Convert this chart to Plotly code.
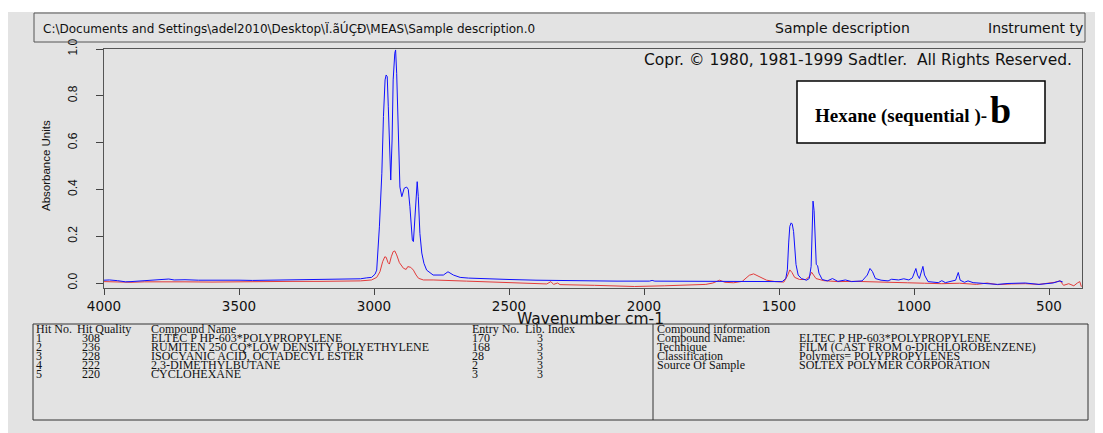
import plotly.graph_objects as go

# ---------------- data ----------------
blue_wn = [4000, 3980, 3950, 3920, 3900, 3860, 3830, 3780, 3760, 3740, 3700, 3650, 3600,
           3550, 3500, 3450, 3400, 3350, 3300, 3250, 3200, 3150, 3100, 3050, 3027, 3009,
           2996, 2990, 2980, 2971, 2965, 2959, 2955, 2951, 2947, 2943, 2938, 2933, 2929,
           2923, 2920, 2916, 2910, 2904, 2897, 2888, 2879, 2873, 2867, 2858, 2854, 2848,
           2843, 2840, 2836, 2830, 2823, 2815, 2805, 2781, 2743, 2726, 2706, 2681, 2650,
           2600, 2500, 2400, 2311, 2200, 2100, 1980, 1970, 1960, 1850, 1758, 1650, 1550,
           1488, 1475, 1469, 1464, 1460, 1455, 1451, 1446, 1442, 1437, 1429, 1417, 1398,
           1388, 1381, 1378, 1374, 1370, 1366, 1362, 1357, 1352, 1340, 1321, 1302, 1282,
           1254, 1231, 1192, 1173, 1163, 1154, 1143, 1122, 1096, 1083, 1057, 1038, 1019,
           1006, 993, 987, 980, 974, 967, 961, 948, 910, 897, 884, 846, 836, 829, 813,
           800, 781, 742, 691, 652, 588, 537, 485, 459, 449]
blue_abs = [0.012, 0.013, 0.010, 0.005, 0.006, 0.009, 0.012, 0.014, 0.017, 0.013, 0.014,
            0.012, 0.013, 0.012, 0.012, 0.011, 0.012, 0.012, 0.013, 0.013, 0.014, 0.015,
            0.016, 0.018, 0.022, 0.024, 0.038, 0.055, 0.24, 0.469, 0.711, 0.868, 0.889,
            0.882, 0.753, 0.568, 0.44, 0.611, 0.868, 0.982, 0.996, 0.896, 0.611, 0.41,
            0.369, 0.405, 0.41, 0.40, 0.326, 0.184, 0.177, 0.298, 0.426, 0.433, 0.37,
            0.212, 0.128, 0.084, 0.055, 0.034, 0.034, 0.048, 0.034, 0.024, 0.021, 0.018,
            0.015, 0.012, 0.010, 0.009, 0.008, 0.008, 0.011, 0.008, 0.007, 0.006, 0.006,
            0.006, 0.006, 0.019, 0.056, 0.175, 0.242, 0.257, 0.252, 0.22, 0.145, 0.079,
            0.034, 0.019, 0.012, 0.019, 0.071, 0.234, 0.35, 0.309, 0.205, 0.079, 0.074,
            0.042, 0.015, 0.009, 0.019, 0.007, 0.013, 0.006, 0.009, 0.034, 0.062, 0.049,
            0.019, 0.012, 0.009, 0.016, 0.013, 0.018, 0.013, 0.022, 0.062, 0.034, 0.019,
            0.049, 0.071, 0.034, 0.006, 0.0015, 0.010, 0.0015, 0.012, 0.045, 0.012,
            0.003, 0.009, 0.0015, -0.003, -0.006, -0.002, 0.0, -0.006, 0.0, 0.009, 0.004]

red_wn = [4000, 3950, 3900, 3850, 3800, 3700, 3600, 3500, 3400, 3300, 3200, 3100, 3050,
          3009, 2990, 2978, 2968, 2960, 2955, 2948, 2943, 2936, 2929, 2923, 2916, 2906,
          2891, 2881, 2875, 2864, 2854, 2844, 2835, 2817, 2781, 2657, 2500, 2400, 2360,
          2345, 2335, 2320, 2311, 2183, 2035, 1925, 1771, 1745, 1720, 1700, 1668, 1636,
          1610, 1594, 1572, 1546, 1514, 1482, 1469, 1460, 1452, 1442, 1424, 1401, 1388,
          1379, 1372, 1363, 1334, 1282, 1218, 1154, 1090, 1025, 961, 897, 832, 768, 729,
          691, 639, 588, 537, 498, 479, 459, 446, 427, 408, 395, 386, 380]
red_abs = [0.006, 0.004, 0.003, 0.005, 0.004, 0.005, 0.004, 0.006, 0.006, 0.007, 0.007,
           0.008, 0.009, 0.013, 0.024, 0.048, 0.091, 0.112, 0.11, 0.087, 0.081, 0.112,
           0.134, 0.137, 0.12, 0.087, 0.063, 0.058, 0.07, 0.067, 0.055, 0.034, 0.02,
           0.013, 0.013, 0.008, 0.002, -0.002, -0.004, 0.006, -0.006, 0.0, -0.007, -0.010,
           -0.015, -0.012, -0.006, 0.0, 0.012, 0.003, 0.001, 0.007, 0.033, 0.039, 0.028,
           0.012, 0.006, 0.004, 0.03, 0.056, 0.045, 0.024, 0.015, 0.015, 0.027, 0.046,
           0.034, 0.019, 0.010, 0.006, 0.007, 0.004, 0.003, 0.001, -0.001, -0.003, -0.001,
           -0.006, 0.0, -0.007, -0.004, -0.003, -0.006, -0.001, 0.003, 0.009, -0.010,
           -0.003, -0.012, 0.0, 0.006, -0.016]

x_ticks = [4000, 3500, 3000, 2500, 2000, 1500, 1000, 500]
y_ticks = [0.0, 0.2, 0.4, 0.6, 0.8, 1.0]
y_tick_text = ["0.0", "0.2", "0.4", "0.6", "0.8", "1.0"]
x_title = "Wavenumber cm-1"
y_title = "Absorbance Units"

header_path = "C:\\Documents and Settings\\adel2010\\Desktop\\Ï.ãÚÇÐ\\MEAS\\Sample description.0"
header_desc = "Sample description"
header_instr = "Instrument ty"
copyright_text = "Copr. © 1980, 1981-1999 Sadtler.  All Rights Reserved."
sample_label = "Hexane (sequential )-"
sample_letter = "b"
page_text = "Page 1/1"

hit_header = ["Hit No.", "Hit Quality", "Compound Name", "Entry No.", "Lib. Index"]
hit_no = ["1", "2", "3", "4", "5"]
hit_quality = ["308", "236", "228", "222", "220"]
compound_names = ["ELTEC P HP-603*POLYPROPYLENE",
                  "RUMITEN 250 CQ*LOW DENSITY POLYETHYLENE",
                  "ISOCYANIC ACID, OCTADECYL ESTER",
                  "2,3-DIMETHYLBUTANE",
                  "CYCLOHEXANE"]
entry_no = ["170", "168", "28", "2", "3"]
lib_index = ["3", "3", "3", "3", "3"]

info_title = "Compound information"
info_labels = ["Compound Name:", "Technique", "Classification", "Source Of Sample"]
info_values = ["ELTEC P HP-603*POLYPROPYLENE",
               "FILM (CAST FROM o-DICHLOROBENZENE)",
               "Polymers= POLYPROPYLENES",
               "SOLTEX POLYMER CORPORATION"]

# ---------------- layout helpers (page pixel coordinates) ----------------
PAGE_W, PAGE_H = 1103, 433
OFF = 8                      # default body margin of the html page
FIG_W, FIG_H = PAGE_W - OFF, PAGE_H - OFF
L, R, T, B = 104, 1082, 49, 288
PW, PH = R - L, B - T
BG = "#e3e3e3"


def fx(px):
    return (px - L) / PW


def fy(py):
    return (B - py) / PH


fig = go.Figure()
fig.add_trace(go.Scatter(x=red_wn, y=red_abs, mode="lines",
                         line=dict(color="#e23b3b", width=1), showlegend=False))
fig.add_trace(go.Scatter(x=blue_wn, y=blue_abs, mode="lines",
                         line=dict(color="#1010ff", width=1), showlegend=False))

shapes = []
shapes.append(dict(type="rect", xref="paper", yref="paper", layer="below",
                   x0=fx(0), x1=fx(1097), y0=fy(12), y1=fy(445),
                   fillcolor=BG, line=dict(width=0)))
shapes.append(dict(type="rect", xref="paper", yref="paper",
                   x0=fx(34), x1=fx(1085), y0=fy(13), y1=fy(42),
                   line=dict(color="#555555", width=1)))
shapes.append(dict(type="rect", xref="paper", yref="paper",
                   x0=fx(797), x1=fx(1045), y0=fy(81), y1=fy(143),
                   fillcolor="white", line=dict(color="black", width=1.5)))
shapes.append(dict(type="rect", xref="paper", yref="paper",
                   x0=fx(33), x1=fx(1088), y0=fy(324), y1=fy(420),
                   line=dict(color="#333333", width=1)))
shapes.append(dict(type="line", xref="paper", yref="paper",
                   x0=fx(653), x1=fx(653), y0=fy(324), y1=fy(420),
                   line=dict(color="#333333", width=1)))

ann = []


def txt(text, px, py, size, family, xanchor="left", color="#111111", **kw):
    ann.append(dict(text=text, x=fx(px), y=fy(py), xref="paper", yref="paper",
                    xanchor=xanchor, yanchor="middle", showarrow=False,
                    font=dict(size=size, family=family, color=color), **kw))


SANS = "DejaVu Sans"
SERIF = "Liberation Serif"

txt(header_path, 41, 28, 12, SANS)
txt(header_desc, 773, 28, 14, SANS)
txt(header_instr, 986, 28, 14, SANS)
txt(copyright_text, 1074, 60, 15.5, SANS, xanchor="right")
txt("<b>" + sample_label + "</b>", 989, 116, 19, SERIF, xanchor="right", color="black")
txt("<b>" + sample_letter + "</b>", 988, 110, 38, SERIF, color="black")
txt(x_title, 590, 319, 15.5, SANS, xanchor="center")
ann.append(dict(text=y_title, x=fx(46), y=fy(166), xref="paper", yref="paper",
                xanchor="center", yanchor="middle", showarrow=False, textangle=-90,
                font=dict(size=11.5, family="Liberation Sans", color="#111111")))
txt(page_text, 575, 438, 11, SANS, xanchor="center")

TS = 12
row_y = [337.5, 346.5, 355.5, 364.5, 373.5]
hdr_y = 328.5
hdr_x = [34, 75, 149, 470, 523]
for h, x in zip(hit_header, hdr_x):
    txt(h, x, hdr_y, TS, SERIF)
for i, y in enumerate(row_y):
    txt(hit_no[i], 34, y, TS, SERIF)
    txt(hit_quality[i], 80, y, TS, SERIF)
    txt(compound_names[i], 149, y, TS, SERIF)
    txt(entry_no[i], 470, y, TS, SERIF)
    txt(lib_index[i], 535, y, TS, SERIF)

txt(info_title, 655, hdr_y, TS, SERIF)
for i in range(len(info_labels)):
    txt(info_labels[i], 655, row_y[i], TS, SERIF)
    txt(info_values[i], 797, row_y[i], TS, SERIF)

fig.update_layout(
    width=FIG_W, height=FIG_H,
    margin=dict(l=L - OFF, r=PAGE_W - R, t=T - OFF, b=PAGE_H - B, pad=0),
    paper_bgcolor="white", plot_bgcolor=BG,
    shapes=shapes, annotations=ann, showlegend=False,
    xaxis=dict(range=[4000, 4000 - PW / 0.27], tickvals=x_ticks, ticks="outside",
               ticklen=6, tickcolor="#444444", showline=True, mirror=True,
               linecolor="#555555", linewidth=1, showgrid=False, zeroline=False,
               tickfont=dict(family=SANS, size=13.5, color="#111111")),
    yaxis=dict(range=[-5 / 234, 1.0], tickvals=y_ticks, ticktext=y_tick_text,
               tickangle=-90, ticks="outside", ticklen=7, tickcolor="#444444",
               ticklabelstandoff=14,
               showline=True, mirror=True, linecolor="#555555", linewidth=1,
               showgrid=False, zeroline=False,
               tickfont=dict(family="Liberation Sans", size=12, color="#111111")),
)

fig.write_html("out.html")
